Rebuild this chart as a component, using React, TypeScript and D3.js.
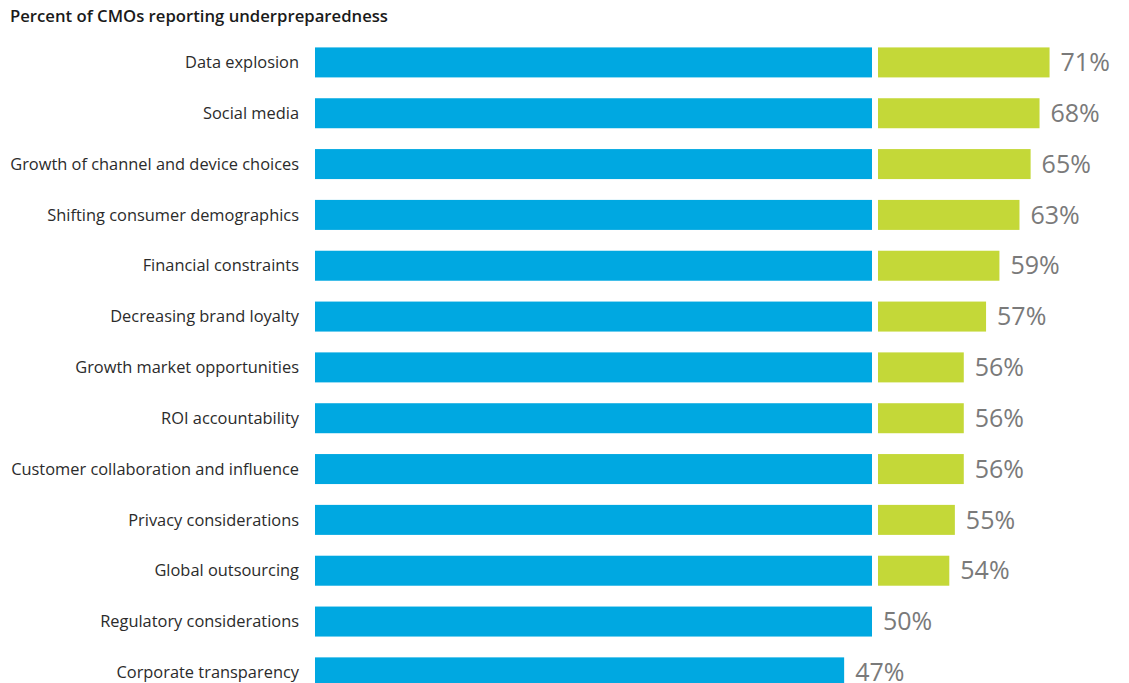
import React from "react";
import * as d3 from "d3";

const title = "Percent of CMOs reporting underpreparedness";
const categories = [
  "Data explosion",
  "Social media",
  "Growth of channel and device choices",
  "Shifting consumer demographics",
  "Financial constraints",
  "Decreasing brand loyalty",
  "Growth market opportunities",
  "ROI accountability",
  "Customer collaboration and influence",
  "Privacy considerations",
  "Global outsourcing",
  "Regulatory considerations",
  "Corporate transparency",
];
// Reported totals (value labels)
const totals = [71, 68, 65, 63, 59, 57, 56, 56, 56, 55, 54, 50, 47];
// Blue segment length (in % units of the blue scale), as drawn
const blueValues = [50, 50, 50, 50, 50, 50, 50, 50, 50, 50, 50, 50, 47.5];
// Green segment length (same units), as drawn in the picture
const greenValues = [15.4, 14.5, 13.7, 12.7, 10.9, 9.7, 7.7, 7.7, 7.7, 6.9, 6.4, 0, 0];

const W = 1129;
const H = 683;

export default function App() {
  const x = d3.scaleLinear().domain([0, 50]).range([315, 872]);
  const y = d3
    .scaleBand<string>()
    .domain(categories)
    .range([37, 37 + 50.83 * categories.length])
    .paddingInner(0.41)
    .paddingOuter(0.205);
  const gap = 6;
  const bh = 30;
  return (
    <svg
      width={W}
      height={H}
      style={{ position: "absolute", left: 0, top: 0, background: "#fff" }}
      fontFamily="'Open Sans', 'Noto Sans', sans-serif"
    >
      <text x={10} y={22} fontSize={16.2} fontWeight={600} fill="#1a1a1a" textLength={378} lengthAdjust="spacingAndGlyphs">
        {title}
      </text>
      {categories.map((c, i) => {
        const top = (y(c) as number) + (y.bandwidth() - bh) / 2;
        const cy = top + bh / 2;
        const bEnd = x(blueValues[i]);
        const hasGreen = greenValues[i] > 0;
        const gStart = x(50) + gap;
        const gEnd = x(50 + greenValues[i]) + gap;
        const end = hasGreen ? gEnd : bEnd;
        return (
          <g key={c}>
            <text
              x={299}
              y={cy}
              dy="0.35em"
              textAnchor="end"
              fontSize={16.4}
              fill="#2b2b2b"
            >
              {c}
            </text>
            <rect x={x(0)} y={top} width={bEnd - x(0)} height={bh} fill="#00A8E1" />
            {hasGreen && (
              <rect x={gStart} y={top} width={gEnd - gStart} height={bh} fill="#C4D838" />
            )}
            <text
              x={end + 11}
              y={cy}
              dy="0.35em"
              fontSize={25}
              fill="#7a7a7a"
            >
              {totals[i]}%
            </text>
          </g>
        );
      })}
    </svg>
  );
}
